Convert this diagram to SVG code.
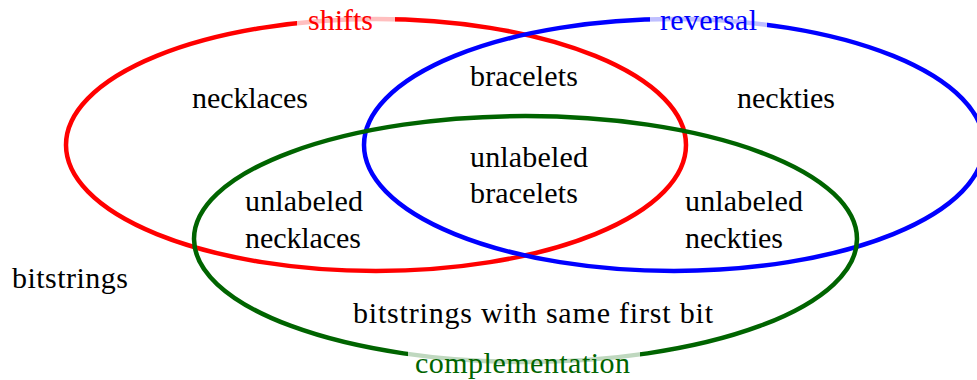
<svg xmlns="http://www.w3.org/2000/svg" width="977" height="380" viewBox="0 0 977 380">
<style>
.set{fill:none;stroke-width:4.5}
.bg{fill:#fff;fill-opacity:0.75}
text{font-family:'Times New Roman','Liberation Serif',Tinos,serif;font-size:30px}
</style>
<rect width="977" height="380" fill="#fff"/>
<g id="connectors"></g>
<g id="shifts">
<ellipse class="set" cx="376" cy="145" rx="310" ry="126" stroke="#ff0000"/>
</g>
<g id="reversal">
<ellipse class="set" cx="674" cy="145" rx="310" ry="126" stroke="#0000ff"/>
</g>
<g id="complementation">
<ellipse class="set" cx="525.5" cy="239" rx="331.5" ry="123" stroke="#006400"/>
</g>
<g id="set-labels">
<rect class="bg" x="297" y="8" width="98" height="28"/>
<text x="308" y="30" fill="#ff0000" textLength="65">shifts</text>
<rect class="bg" x="650" y="8" width="117" height="28"/>
<text x="660" y="30" fill="#0000ff" textLength="97">reversal</text>
<rect class="bg" x="408" y="350" width="232" height="30"/>
<text x="415" y="373" fill="#006400" textLength="215">complementation</text>
</g>
<g id="region-labels" fill="#000">
<text x="192" y="108" textLength="116">necklaces</text>
<text x="470" y="86" textLength="108">bracelets</text>
<text x="737" y="108" textLength="98">neckties</text>
<text x="470" y="167" textLength="118">unlabeled</text>
<text x="470" y="203" textLength="108">bracelets</text>
<text x="245" y="211" textLength="118">unlabeled</text>
<text x="245" y="248" textLength="116">necklaces</text>
<text x="685" y="211" textLength="118">unlabeled</text>
<text x="685" y="248" textLength="98">neckties</text>
<text x="12" y="288" textLength="116">bitstrings</text>
<text x="353" y="323" textLength="360">bitstrings with same first bit</text>
</g>
</svg>
